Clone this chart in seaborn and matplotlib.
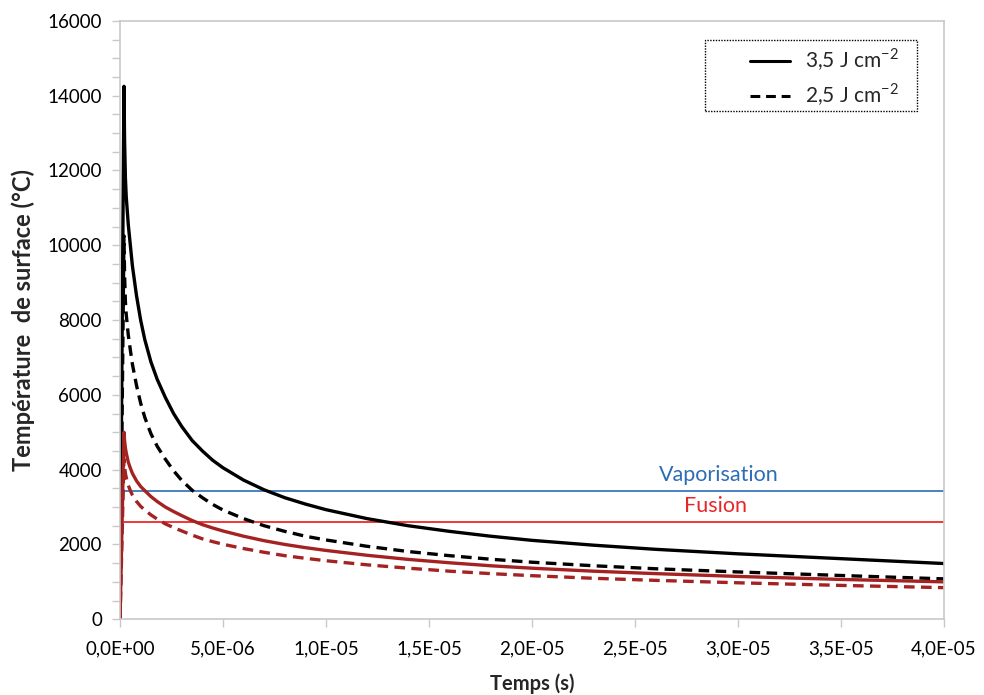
import matplotlib
matplotlib.use("Agg")
import matplotlib.pyplot as plt
import matplotlib.ticker as mticker
from matplotlib.patches import Rectangle
import seaborn as sns
import pandas as pd

# temps en microsecondes
temps_us = [0, 0.19, 0.22, 0.26, 0.3, 0.4, 0.5, 0.6, 0.8, 1.0, 1.2, 1.5, 1.8, 2.2, 2.6, 3.0,
            3.5, 4.0, 4.5, 5.0, 6.0, 7.0, 8.0, 9.0, 10, 12, 14, 16, 18, 20, 23, 26, 30, 35, 40]

noir_35 = [0, 14250, 12800, 11800, 11300, 10550, 10000, 9450, 8650, 8000, 7480, 6880, 6420,
           5930, 5500, 5150, 4780, 4500, 4250, 4050, 3720, 3460, 3250, 3080, 2930, 2690, 2500,
           2350, 2220, 2110, 1980, 1870, 1750, 1620, 1490]
noir_25 = [0, 10250, 9200, 8500, 8150, 7600, 7200, 6820, 6250, 5780, 5400, 4960, 4630, 4280,
           3970, 3710, 3450, 3250, 3070, 2920, 2690, 2500, 2350, 2220, 2120, 1950, 1810, 1700,
           1605, 1525, 1430, 1350, 1265, 1170, 1080]
rouge_35 = [0, 5000, 4780, 4580, 4450, 4200, 4040, 3900, 3700, 3550, 3440, 3280, 3150, 3000,
            2880, 2770, 2640, 2530, 2440, 2360, 2220, 2100, 2000, 1915, 1840, 1710, 1600, 1510,
            1430, 1365, 1285, 1220, 1145, 1065, 1000]
rouge_25 = [0, 4280, 4080, 3900, 3790, 3580, 3440, 3320, 3150, 3020, 2920, 2790, 2680, 2550,
            2450, 2360, 2250, 2150, 2075, 2005, 1890, 1790, 1700, 1630, 1565, 1455, 1365, 1285,
            1220, 1165, 1095, 1040, 975, 905, 845]

T_vaporisation = 3430
T_fusion = 2590
seuil_t = [0.2e-6, 4.0e-5]

df = pd.DataFrame({
    "t": [v * 1e-6 for v in temps_us],
    "noir_35": noir_35, "noir_25": noir_25,
    "rouge_35": rouge_35, "rouge_25": rouge_25,
})

sns.set_theme(style="white")
plt.rcParams["font.family"] = ["Lato", "DejaVu Sans"]
plt.rcParams["mathtext.fontset"] = "custom"
plt.rcParams["mathtext.rm"] = "Lato"

fig = plt.figure(figsize=(9.84, 6.95), dpi=100)
ax = fig.add_axes([0.122, 0.109, 0.837, 0.861])

gris = "#C8C8C8"
rouge = "#A52222"
tirets = (0, (3.2, 1.9))

# seuils
ax.plot(seuil_t, [T_vaporisation] * 2, color="#3A78BE", lw=1.3)
ax.plot(seuil_t, [T_fusion] * 2, color="#F02828", lw=1.3)

sns.lineplot(data=df, x="t", y="noir_35", color="black", lw=2.4, ax=ax,
             estimator=None, sort=False, label="3,5 J cm$^{-2}$")
sns.lineplot(data=df, x="t", y="noir_25", color="black", lw=2.4, ax=ax,
             estimator=None, sort=False, linestyle=tirets, label="2,5 J cm$^{-2}$")
sns.lineplot(data=df, x="t", y="rouge_25", color=rouge, lw=2.4, ax=ax,
             estimator=None, sort=False, linestyle=tirets, legend=False)
sns.lineplot(data=df, x="t", y="rouge_35", color=rouge, lw=2.4, ax=ax,
             estimator=None, sort=False, legend=False)

ax.text(29.1e-6, 3850, "Vaporisation", color="#2E6DB4", fontsize=15.5, ha="center", va="center")
ax.text(28.9e-6, 3030, "Fusion", color="#E8262A", fontsize=15.5, ha="center", va="center")

ax.set_xlim(0, 4.0e-5)
ax.set_ylim(0, 16000)
ax.xaxis.set_major_locator(mticker.MultipleLocator(5e-6))
ax.xaxis.set_major_formatter(mticker.FuncFormatter(lambda v, p: f"{v:.1E}".replace(".", ",")))
ax.yaxis.set_major_locator(mticker.MultipleLocator(2000))
ax.yaxis.set_minor_locator(mticker.MultipleLocator(500))

for s in ax.spines.values():
    s.set_color(gris)
    s.set_linewidth(1.2)
ax.tick_params(axis="both", which="both", direction="out", color=gris, width=1,
               labelsize=13.5, labelcolor="black")
ax.tick_params(axis="x", which="major", length=6, bottom=True, pad=9)
ax.tick_params(axis="y", which="major", length=6, left=True, pad=7)
ax.tick_params(axis="y", which="minor", length=6, left=True)

ax.set_xlabel("Temps (s)", fontsize=14.5, fontweight="bold", labelpad=12)
ax.set_ylabel("Température  de surface (°C)", fontsize=17, fontweight="bold", labelpad=9)

# légende : cadre pointillé dessiné à part
ax.add_patch(Rectangle((0.71, 0.849), 0.258, 0.119, transform=ax.transAxes, fill=True,
                       facecolor="white", edgecolor="black", lw=1.0, linestyle=(0, (1, 1)),
                       zorder=4))
leg = ax.legend(loc="center left", bbox_to_anchor=(0.7646, 0.9055), fontsize=15,
                frameon=False, handlelength=1.93, borderpad=0, borderaxespad=0,
                handletextpad=0.7, labelspacing=0.4)
leg.set_zorder(5)
for h in leg.get_lines():
    h.set_linewidth(2.2)

plt.savefig("out.png", dpi=100)
plt.close()
